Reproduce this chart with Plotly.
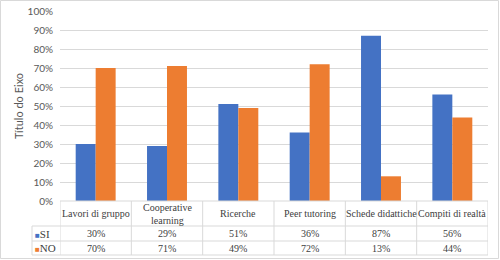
import plotly.graph_objects as go

categories = ["Lavori di gruppo", "Cooperative<br>learning", "Ricerche", "Peer tutoring", "Schede didattiche", "Compiti di realtà"]
si_values = [0.30, 0.29, 0.51, 0.36, 0.87, 0.56]
no_values = [0.70, 0.71, 0.49, 0.72, 0.13, 0.44]
series_names = ["SI", "NO"]
colors = ["#4472C4", "#ED7D31"]
y_title = "Título do Eixo"

W, H = 500, 260
L, R, T, B = 60, 12, 11, 59
PW, PH = W - L - R, H - T - B
Y0 = T + PH  # pixel y of axis bottom

def py(p):
    return (Y0 - p) / PH

def px(p):
    return (p - L) / PW

fig = go.Figure()
x_idx = list(range(len(categories)))
for name, vals, col in zip(series_names, [si_values, no_values], colors):
    fig.add_trace(go.Bar(x=x_idx, y=vals, name=name, marker=dict(color=col, line=dict(width=0))))

grid = "#D9D9D9"
tcol = "#404040"
serif = "serif"
tfs = 10

shapes = []
shapes.append(dict(type="rect", xref="paper", yref="paper", x0=px(0.5), x1=px(W - 1.5), y0=py(H - 1.5), y1=py(0.5),
                   line=dict(color=grid, width=1)))
row_cat_bot, row_si_bot, row_no_bot = 226, 241, 255
lab_left = 32
shapes.append(dict(type="line", xref="paper", yref="paper", x0=0, x1=1, y0=0, y1=0, line=dict(color=grid, width=1)))
for yb in [row_cat_bot, row_si_bot, row_no_bot]:
    shapes.append(dict(type="line", xref="paper", yref="paper", x0=px(lab_left), x1=1, y0=py(yb), y1=py(yb),
                       line=dict(color=grid, width=1)))
for i in range(len(categories) + 1):
    shapes.append(dict(type="line", xref="x", yref="paper", x0=i - 0.5, x1=i - 0.5, y0=0, y1=py(row_no_bot),
                       line=dict(color=grid, width=1)))
shapes.append(dict(type="line", xref="paper", yref="paper", x0=px(lab_left), x1=px(lab_left), y0=py(row_cat_bot),
                   y1=py(row_no_bot), line=dict(color=grid, width=1)))

ann = []
for i, c in enumerate(categories):
    ann.append(dict(x=i, y=py((Y0 + row_cat_bot) / 2), xref="x", yref="paper", text=c, showarrow=False,
                    font=dict(family=serif, size=tfs, color=tcol), yanchor="middle", xanchor="center"))
    ann.append(dict(x=i, y=py((row_cat_bot + row_si_bot) / 2), xref="x", yref="paper", text=f"{si_values[i]:.0%}",
                    showarrow=False, font=dict(family=serif, size=tfs, color=tcol), yanchor="middle"))
    ann.append(dict(x=i, y=py((row_si_bot + row_no_bot) / 2), xref="x", yref="paper", text=f"{no_values[i]:.0%}",
                    showarrow=False, font=dict(family=serif, size=tfs, color=tcol), yanchor="middle"))
for (name, col, yc) in [(series_names[0], colors[0], (row_cat_bot + row_si_bot) / 2),
                        (series_names[1], colors[1], (row_si_bot + row_no_bot) / 2)]:
    ann.append(dict(x=px(lab_left + 1), y=py(yc), xref="paper", yref="paper",
                    text=f"<span style='color:{col};font-size:8px'>■</span>{name}", showarrow=False,
                    font=dict(family=serif, size=tfs + 1, color=tcol), xanchor="left", yanchor="middle"))
ann.append(dict(x=px(18), y=0.5, xref="paper", yref="paper", text=y_title, textangle=-90, showarrow=False,
                font=dict(family="Lato", size=11, color="#595959"), xanchor="center", yanchor="middle"))

fig.update_layout(
    width=W, height=H, margin=dict(l=L, r=R, t=T, b=B, autoexpand=False),
    paper_bgcolor="white", plot_bgcolor="white",
    barmode="group", bargap=0.44, bargroupgap=0,
    showlegend=False,
    xaxis=dict(range=[-0.5, len(categories) - 0.5], showticklabels=False, showgrid=False, zeroline=False,
               showline=False, ticks="", automargin=False),
    yaxis=dict(range=[0, 1], dtick=0.1, tickformat=".0%", gridcolor=grid, gridwidth=1, zeroline=False,
               showline=False, ticks="", automargin=False,
               tickfont=dict(family="Lato", size=10, color="#595959"), ticklabelstandoff=6),
    shapes=shapes, annotations=ann,
)
fig.write_html("out.html", config={"displayModeBar": False},
               post_script="document.body.style.margin='0';document.body.style.overflow='hidden';")
